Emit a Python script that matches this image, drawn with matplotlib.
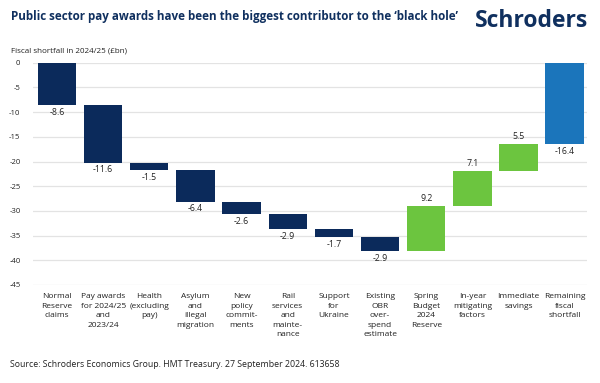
import numpy as np
import matplotlib.pyplot as plt

plt.rcParams['font.family'] = ['Open Sans', 'DejaVu Sans']

# Data
categories = ['Normal\nReserve\nclaims', 'Pay awards\nfor 2024/25\nand\n2023/24',
              'Health\n(excluding\npay)', 'Asylum\nand\nillegal\nmigration',
              'New\npolicy\ncommit-\nments', 'Rail\nservices\nand\nmainte-\nnance',
              'Support\nfor\nUkraine', 'Existing\nOBR\nover-\nspend\nestimate',
              'Spring\nBudget\n2024\nReserve', 'In-year\nmitigating\nfactors',
              'Immediate\nsavings', 'Remaining\nfiscal\nshortfall']
changes = [-8.6, -11.6, -1.5, -6.4, -2.6, -2.9, -1.7, -2.9, 9.2, 7.1, 5.5]
total_label = -16.4

navy = '#0b2a5b'
green = '#6cc53f'
blue = '#1b75bb'

# Waterfall bases
steps = np.array(changes)
ends = np.cumsum(steps)
starts = ends - steps
total = ends[-1]

fig = plt.figure(figsize=(6, 3.83), dpi=100)
ax = fig.add_axes([0.055, 0.256, 0.923, 0.58])

x = np.arange(len(categories))
w = 0.83
for i, (s, e, d) in enumerate(zip(starts, ends, steps)):
    col = navy if d < 0 else green
    ax.bar(i, e - s, bottom=s, width=w, color=col, zorder=3)
    if d < 0:
        ax.text(i, e - 0.6, f'{d:.1f}', ha='center', va='top', fontsize=6.3, color='#222222')
    else:
        ax.text(i, e + 0.6, f'{d:.1f}', ha='center', va='bottom', fontsize=6.3, color='#222222')

n = len(categories) - 1
ax.bar(n, total, bottom=0, width=w, color=blue, zorder=3)
ax.text(n, total - 0.6, f'{total_label:.1f}', ha='center', va='top', fontsize=6.3, color='#222222')

ax.set_xlim(-0.52, 11.48)
ax.set_ylim(-45, 0)
ax.set_yticks(np.arange(-45, 1, 5))
ax.set_yticklabels([str(v) for v in range(-45, 1, 5)], fontsize=5.5, color='#222222')
ax.set_xticks(x)
ax.set_xticklabels(categories, fontsize=6.0, color='#222222', linespacing=1.5, va='top')
ax.tick_params(axis='both', length=0)
ax.tick_params(axis='x', pad=6)
ax.tick_params(axis='y', pad=9)
ax.grid(axis='y', color='#e3e3e3', linewidth=0.9, zorder=0)
for sp in ax.spines.values():
    sp.set_visible(False)

fig.text(0.018, 0.956, 'Public sector pay awards have been the biggest contributor to the \u2018black hole\u2019',
         fontsize=8.4, fontweight='bold', color='#10305f', va='center')
fig.text(0.98, 0.945, 'Schroders', fontsize=16.5, fontweight='bold', color='#10305f',
         ha='right', va='center')
fig.text(0.018, 0.867, 'Fiscal shortfall in 2024/25 (\u00a3bn)', fontsize=5.8, color='#222222', va='center')
fig.text(0.017, 0.048, 'Source: Schroders Economics Group. HMT Treasury. 27 September 2024. 613658',
         fontsize=6.3, color='#222222', va='center')

fig.savefig('out.png', dpi=100)
